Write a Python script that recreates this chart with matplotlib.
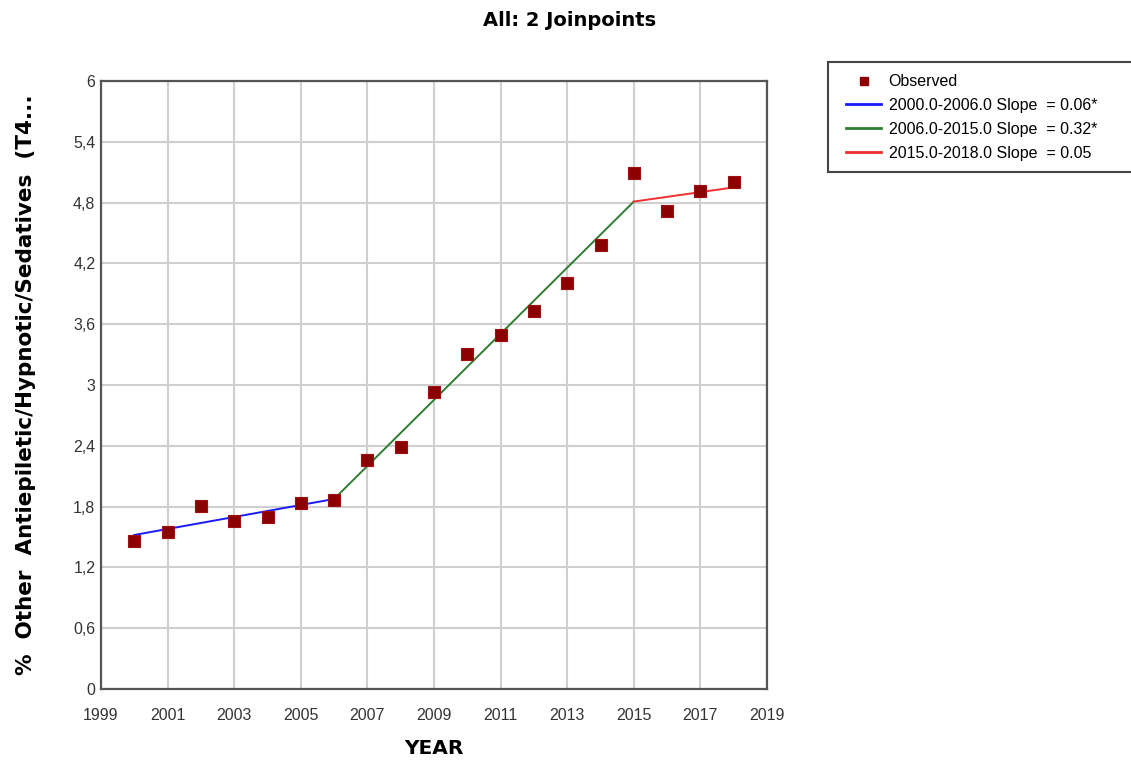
import matplotlib
matplotlib.use("Agg")
import matplotlib.pyplot as plt
from matplotlib.lines import Line2D
from matplotlib.patches import Rectangle

# Observed annual percentages
years = [2000, 2001, 2002, 2003, 2004, 2005, 2006, 2007, 2008, 2009,
         2010, 2011, 2012, 2013, 2014, 2015, 2016, 2017, 2018]
observed = [1.46, 1.55, 1.81, 1.66, 1.70, 1.84, 1.87, 2.26, 2.39, 2.93,
            3.31, 3.49, 3.73, 4.01, 4.38, 5.09, 4.72, 4.91, 5.00]

# Joinpoint segments: (start year, end year) and fitted values at each end
seg_years = [(2000, 2006), (2006, 2015), (2015, 2018)]
seg_fit = [(1.52, 1.875), (1.875, 4.81), (4.81, 4.95)]
seg_labels = ["2000.0-2006.0 Slope  = 0.06*",
              "2006.0-2015.0 Slope  = 0.32*",
              "2015.0-2018.0 Slope  = 0.05"]
seg_colors = ["#1a1aff", "#2e7d32", "#f03030"]

x_ticks = list(range(1999, 2020, 2))
y_ticks = [0, 0.6, 1.2, 1.8, 2.4, 3, 3.6, 4.2, 4.8, 5.4, 6]
y_tick_labels = ["0", "0,6", "1,2", "1,8", "2,4", "3", "3,6", "4,2", "4,8", "5,4", "6"]

W, H = 1131, 763
fig = plt.figure(figsize=(W / 100, H / 100), dpi=100)
fig.patch.set_facecolor("white")
ax = fig.add_axes([101 / W, (H - 689) / H, 666 / W, 608 / H])

for (x0, x1), (y0, y1), c in zip(seg_years, seg_fit, seg_colors):
    ax.plot([x0, x1], [y0, y1], color=c, lw=1.4, zorder=3)

ax.scatter(years, observed, marker="s", s=66, color="#8b0000",
           edgecolors="#a01010", linewidths=0.8, zorder=4)

ax.set_xlim(1999, 2019)
ax.set_ylim(0, 6)
ax.set_xticks(x_ticks)
ax.set_yticks(y_ticks)
ax.set_yticklabels(y_tick_labels)
ax.grid(True, color="#cfcfcf", lw=1.5)
ax.set_axisbelow(True)
ax.tick_params(axis="both", length=0, labelsize=11.5, labelcolor="#333333",
               labelfontfamily="Liberation Sans")
ax.tick_params(axis="x", pad=14)
ax.tick_params(axis="y", pad=4)
for s in ax.spines.values():
    s.set_color("#555555")
    s.set_linewidth(1.6)

ax.set_xlabel("YEAR", fontsize=14.5, fontweight="bold", labelpad=11)
ax.set_ylabel("%  Other  Antiepiletic/Hypnotic/Sedatives  (T4...",
              fontsize=15.5, fontweight="bold", labelpad=27)

fig.text(570 / W, 1 - 20 / H, "All: 2 Joinpoints", ha="center", va="center",
         fontsize=14, fontweight="bold")

# Legend frame runs off the right edge of the figure
fig.patches.append(Rectangle((828 / W, 1 - 172 / H), 330 / W, 110 / H,
                             transform=fig.transFigure, facecolor="white",
                             edgecolor="#444444", lw=1.5, zorder=1))

handles = [Line2D([], [], marker="s", color="#8b0000", linestyle="none",
                  markersize=6)]
handles += [Line2D([], [], color=c, lw=2) for c in seg_colors]
labels = ["Observed"] + seg_labels
leg = fig.legend(handles, labels, loc="upper left",
                 bbox_to_anchor=(843 / W, 1 - 71 / H),
                 prop={"family": "Liberation Sans", "size": 11.5},
                 frameon=False, borderpad=0.2,
                 handlelength=2.2, handletextpad=0.45, labelspacing=0.55,
                 borderaxespad=0)
leg.set_zorder(2)

fig.savefig("out.png", dpi=100)
